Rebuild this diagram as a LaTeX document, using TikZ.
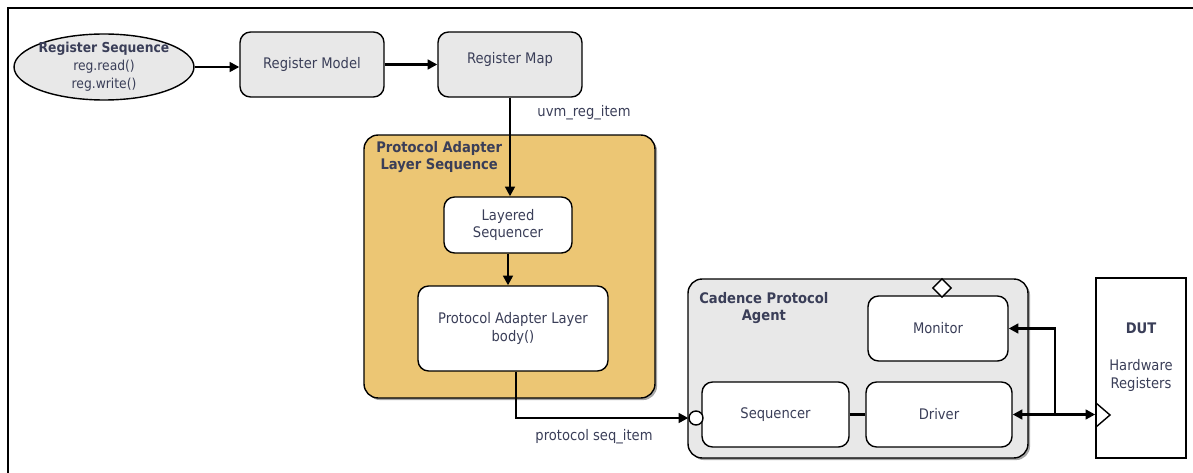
\documentclass[tikz,border=0pt]{standalone}
\usepackage{fontspec}
\setmainfont{DejaVu Sans Condensed}
\usetikzlibrary{arrows.meta,shapes.geometric,shadows}
\definecolor{ink}{RGB}{58,62,88}
\definecolor{boxgray}{RGB}{232,232,232}
\definecolor{adapterfill}{RGB}{236,198,116}
\tikzset{
  blk/.style={draw, rounded corners=6pt, line width=0.8pt, text=ink, align=center, font=\fontsize{8.3}{10}\selectfont},
  title/.style={text=ink, align=center, font=\fontsize{8.3}{9.5}\selectfont\bfseries, inner sep=0pt},
  lbl/.style={text=ink, font=\fontsize{8.3}{10}\selectfont, inner sep=0pt},
  conn/.style={line width=1.6pt, -{Triangle[length=5.5pt,width=5.5pt]}},
  biconn/.style={line width=1.6pt, {Triangle[length=5.5pt,width=5.5pt]}-{Triangle[length=5.5pt,width=5.5pt]}},
  shadowed/.style={drop shadow={shadow xshift=1.2pt,shadow yshift=-1.2pt,fill=black,opacity=0.35}}
}
\begin{document}
\begin{tikzpicture}[x=0.02cm,y=-0.02cm]
  \useasboundingbox (0,0) rectangle (1193,473);
  \draw[line width=1.1pt] (8,473) -- (8,8) -- (1193,8);
  \node[blk, ellipse, fill=boxgray, minimum width=3.6cm, minimum height=1.32cm, inner xsep=-8pt, inner ysep=-4pt,
    font=\fontsize{7.8}{10.3}\selectfont] (regseq) at (104,67)
    {{\bfseries Register Sequence}\\reg.read()\\reg.write()};
  \node[blk, fill=boxgray, minimum width=2.88cm, minimum height=1.3cm] (model) at (312,64.5) {Register Model};
  \node[blk, fill=boxgray, minimum width=2.88cm, minimum height=1.3cm, text depth=7pt] (map) at (510,64.5) {Register Map};
  \node[blk, fill=adapterfill, shadowed, rounded corners=8pt, minimum width=5.82cm, minimum height=5.26cm] (adapter) at (509.5,266.5) {};
  \node[title, anchor=north west] (adtitle) at (376,141) {Protocol Adapter\\Layer Sequence};
  \node[blk, fill=white, minimum width=2.56cm, minimum height=1.12cm] (lseq) at (508,225) {Layered\\Sequencer};
  \node[blk, fill=white, minimum width=3.8cm, minimum height=1.7cm] (body) at (513,328.5) {Protocol Adapter Layer\\body()};
  \node[blk, fill=boxgray, shadowed, rounded corners=8pt, minimum width=6.8cm, minimum height=3.58cm] (agent) at (858,368.5) {};
  \node[title, anchor=north west] (agtitle) at (699,292) {Cadence Protocol\\Agent};
  \node[blk, fill=white, minimum width=2.8cm, minimum height=1.3cm] (mon) at (938,328.5) {Monitor};
  \node[blk, fill=white, minimum width=2.94cm, minimum height=1.3cm] (sqr) at (775.5,414.5) {Sequencer};
  \node[blk, fill=white, minimum width=2.92cm, minimum height=1.3cm] (drv) at (939,414.5) {Driver};
  \node[draw, line width=0.8pt, diamond, fill=white, minimum size=0.38cm, inner sep=0pt] (mport) at (942,288) {};
  \node[draw, line width=0.8pt, circle, fill=white, minimum size=0.28cm, inner sep=0pt] (sport) at (696,418) {};
  \node[draw, line width=0.9pt, fill=white, minimum width=1.8cm, minimum height=3.6cm, text=ink, align=center,
    font=\fontsize{8.3}{10}\selectfont] (dut) at (1141,368) {{\bfseries DUT}\\[11pt]Hardware\\Registers\\[4pt]};
  \draw[line width=0.8pt] (1096,403) -- (1110,415) -- (1096,427);
  \draw[conn] (regseq.east) -- (regseq.east -| model.west);
  \draw[conn] (model) -- (map);
  \draw[conn] (map.south) -- (map.south |- lseq.north);
  \node[lbl] (uvmlbl) at (584,113) {uvm\_reg\_item};
  \draw[conn] (lseq) -- (lseq |- body.north);
  \draw[conn] ([xshift=0.06cm]body.south) |- (sport.west);
  \node[lbl] (seqlbl) at (594,437) {protocol seq\_item};
  \draw[line width=1.6pt] (sqr) -- (drv);
  \draw[biconn] (drv.east) -- (drv.east -| dut.west);
  \coordinate (split) at (1055,414.5);
  \draw[conn] (split) |- (mon.east);
\end{tikzpicture}
\end{document}
